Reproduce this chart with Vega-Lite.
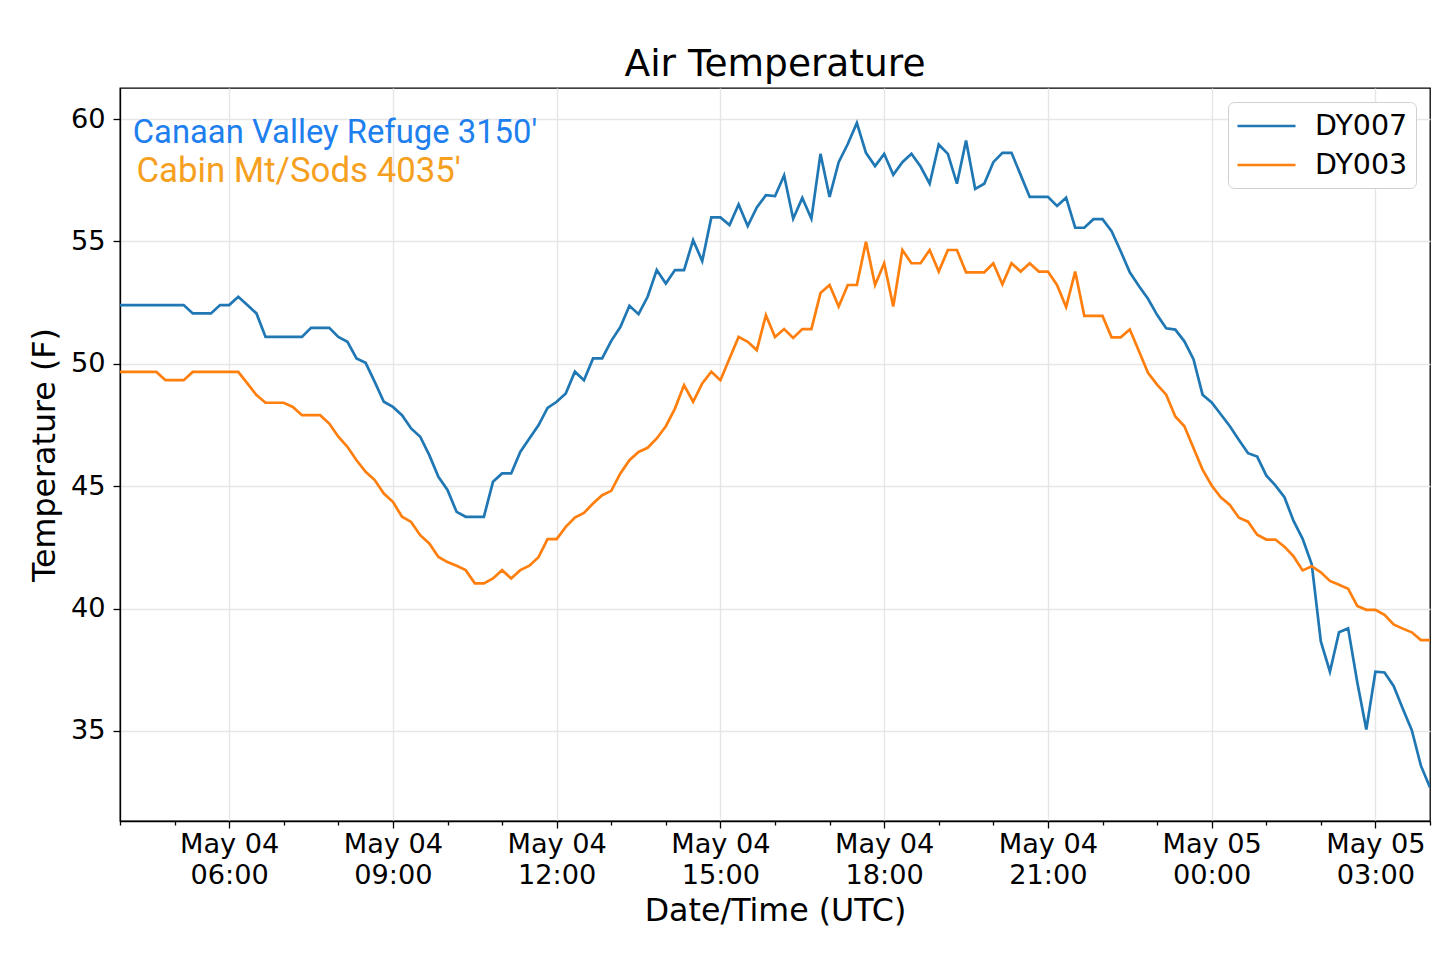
{
  "$schema": "https://vega.github.io/schema/vega-lite/v6.json",
  "width": 1310,
  "height": 733,
  "autosize": "none",
  "padding": {"left": 120, "top": 88, "right": 10, "bottom": 132},
  "title": {"text": "Air Temperature", "fontSize": 37.5, "font": "DejaVu Sans", "fontWeight": "normal", "anchor": "middle", "offset": 5, "color": "black"},
  "config": {
    "font": "DejaVu Sans",
    "view": {"stroke": "black", "strokeWidth": 1.3},
    "axis": {"domainColor": "black", "domainWidth": 1.3, "tickColor": "black", "tickWidth": 1.3, "labelColor": "black", "titleColor": "black", "gridColor": "#e6e6e6", "gridWidth": 1.4, "labelFont": "DejaVu Sans", "titleFont": "DejaVu Sans", "labelFontSize": 27.2, "titleFontSize": 31.7, "titleFontWeight": "normal"},
    "legend": {"labelFont": "DejaVu Sans", "labelFontSize": 28.5, "labelColor": "black"}
  },
  "layer": [
    {
      "data": {"values": [
        {"t":"2019-05-04T04:00:00Z","DY007":52.4,"DY003":49.67},
        {"t":"2019-05-04T04:10:00Z","DY007":52.4,"DY003":49.67},
        {"t":"2019-05-04T04:20:00Z","DY007":52.4,"DY003":49.67},
        {"t":"2019-05-04T04:30:00Z","DY007":52.4,"DY003":49.67},
        {"t":"2019-05-04T04:40:00Z","DY007":52.4,"DY003":49.67},
        {"t":"2019-05-04T04:50:00Z","DY007":52.4,"DY003":49.33},
        {"t":"2019-05-04T05:00:00Z","DY007":52.4,"DY003":49.33},
        {"t":"2019-05-04T05:10:00Z","DY007":52.4,"DY003":49.33},
        {"t":"2019-05-04T05:20:00Z","DY007":52.06,"DY003":49.67},
        {"t":"2019-05-04T05:30:00Z","DY007":52.06,"DY003":49.67},
        {"t":"2019-05-04T05:40:00Z","DY007":52.06,"DY003":49.67},
        {"t":"2019-05-04T05:50:00Z","DY007":52.4,"DY003":49.67},
        {"t":"2019-05-04T06:00:00Z","DY007":52.4,"DY003":49.67},
        {"t":"2019-05-04T06:10:00Z","DY007":52.74,"DY003":49.67},
        {"t":"2019-05-04T06:20:00Z","DY007":52.4,"DY003":49.2},
        {"t":"2019-05-04T06:30:00Z","DY007":52.06,"DY003":48.72},
        {"t":"2019-05-04T06:40:00Z","DY007":51.1,"DY003":48.41},
        {"t":"2019-05-04T06:50:00Z","DY007":51.1,"DY003":48.41},
        {"t":"2019-05-04T07:00:00Z","DY007":51.1,"DY003":48.41},
        {"t":"2019-05-04T07:10:00Z","DY007":51.1,"DY003":48.24},
        {"t":"2019-05-04T07:20:00Z","DY007":51.1,"DY003":47.9},
        {"t":"2019-05-04T07:30:00Z","DY007":51.47,"DY003":47.9},
        {"t":"2019-05-04T07:40:00Z","DY007":51.47,"DY003":47.9},
        {"t":"2019-05-04T07:50:00Z","DY007":51.47,"DY003":47.56},
        {"t":"2019-05-04T08:00:00Z","DY007":51.1,"DY003":47.02},
        {"t":"2019-05-04T08:10:00Z","DY007":50.9,"DY003":46.61},
        {"t":"2019-05-04T08:20:00Z","DY007":50.22,"DY003":46.06},
        {"t":"2019-05-04T08:30:00Z","DY007":50.04,"DY003":45.59},
        {"t":"2019-05-04T08:40:00Z","DY007":49.26,"DY003":45.25},
        {"t":"2019-05-04T08:50:00Z","DY007":48.45,"DY003":44.7},
        {"t":"2019-05-04T09:00:00Z","DY007":48.24,"DY003":44.36},
        {"t":"2019-05-04T09:10:00Z","DY007":47.9,"DY003":43.75},
        {"t":"2019-05-04T09:20:00Z","DY007":47.36,"DY003":43.54},
        {"t":"2019-05-04T09:30:00Z","DY007":47.02,"DY003":43.0},
        {"t":"2019-05-04T09:40:00Z","DY007":46.27,"DY003":42.66},
        {"t":"2019-05-04T09:50:00Z","DY007":45.38,"DY003":42.11},
        {"t":"2019-05-04T10:00:00Z","DY007":44.85,"DY003":41.9},
        {"t":"2019-05-04T10:10:00Z","DY007":43.95,"DY003":41.75},
        {"t":"2019-05-04T10:20:00Z","DY007":43.75,"DY003":41.57},
        {"t":"2019-05-04T10:30:00Z","DY007":43.75,"DY003":41.03},
        {"t":"2019-05-04T10:40:00Z","DY007":43.75,"DY003":41.03},
        {"t":"2019-05-04T10:50:00Z","DY007":45.18,"DY003":41.23},
        {"t":"2019-05-04T11:00:00Z","DY007":45.52,"DY003":41.57},
        {"t":"2019-05-04T11:10:00Z","DY007":45.52,"DY003":41.23},
        {"t":"2019-05-04T11:20:00Z","DY007":46.4,"DY003":41.57},
        {"t":"2019-05-04T11:30:00Z","DY007":46.95,"DY003":41.75},
        {"t":"2019-05-04T11:40:00Z","DY007":47.49,"DY003":42.1},
        {"t":"2019-05-04T11:50:00Z","DY007":48.2,"DY003":42.84},
        {"t":"2019-05-04T12:00:00Z","DY007":48.45,"DY003":42.84},
        {"t":"2019-05-04T12:10:00Z","DY007":48.79,"DY003":43.34},
        {"t":"2019-05-04T12:20:00Z","DY007":49.68,"DY003":43.72},
        {"t":"2019-05-04T12:30:00Z","DY007":49.33,"DY003":43.91},
        {"t":"2019-05-04T12:40:00Z","DY007":50.22,"DY003":44.29},
        {"t":"2019-05-04T12:50:00Z","DY007":50.22,"DY003":44.63},
        {"t":"2019-05-04T13:00:00Z","DY007":50.94,"DY003":44.81},
        {"t":"2019-05-04T13:10:00Z","DY007":51.5,"DY003":45.52},
        {"t":"2019-05-04T13:20:00Z","DY007":52.37,"DY003":46.06},
        {"t":"2019-05-04T13:30:00Z","DY007":52.03,"DY003":46.4},
        {"t":"2019-05-04T13:40:00Z","DY007":52.74,"DY003":46.57},
        {"t":"2019-05-04T13:50:00Z","DY007":53.83,"DY003":46.95},
        {"t":"2019-05-04T14:00:00Z","DY007":53.28,"DY003":47.45},
        {"t":"2019-05-04T14:10:00Z","DY007":53.83,"DY003":48.17},
        {"t":"2019-05-04T14:20:00Z","DY007":53.83,"DY003":49.13},
        {"t":"2019-05-04T14:30:00Z","DY007":55.05,"DY003":48.45},
        {"t":"2019-05-04T14:40:00Z","DY007":54.2,"DY003":49.2},
        {"t":"2019-05-04T14:50:00Z","DY007":55.98,"DY003":49.68},
        {"t":"2019-05-04T15:00:00Z","DY007":55.98,"DY003":49.33},
        {"t":"2019-05-04T15:10:00Z","DY007":55.67,"DY003":50.22},
        {"t":"2019-05-04T15:20:00Z","DY007":56.51,"DY003":51.1},
        {"t":"2019-05-04T15:30:00Z","DY007":55.63,"DY003":50.9},
        {"t":"2019-05-04T15:40:00Z","DY007":56.39,"DY003":50.56},
        {"t":"2019-05-04T15:50:00Z","DY007":56.89,"DY003":51.99},
        {"t":"2019-05-04T16:00:00Z","DY007":56.85,"DY003":51.1},
        {"t":"2019-05-04T16:10:00Z","DY007":57.7,"DY003":51.42},
        {"t":"2019-05-04T16:20:00Z","DY007":55.93,"DY003":51.06},
        {"t":"2019-05-04T16:30:00Z","DY007":56.78,"DY003":51.42},
        {"t":"2019-05-04T16:40:00Z","DY007":55.93,"DY003":51.42},
        {"t":"2019-05-04T16:50:00Z","DY007":58.58,"DY003":52.89},
        {"t":"2019-05-04T17:00:00Z","DY007":56.82,"DY003":53.22},
        {"t":"2019-05-04T17:10:00Z","DY007":58.24,"DY003":52.34},
        {"t":"2019-05-04T17:20:00Z","DY007":58.98,"DY003":53.22},
        {"t":"2019-05-04T17:30:00Z","DY007":59.84,"DY003":53.22},
        {"t":"2019-05-04T17:40:00Z","DY007":58.62,"DY003":54.99},
        {"t":"2019-05-04T17:50:00Z","DY007":58.08,"DY003":53.22},
        {"t":"2019-05-04T18:00:00Z","DY007":58.58,"DY003":54.11},
        {"t":"2019-05-04T18:10:00Z","DY007":57.72,"DY003":52.34},
        {"t":"2019-05-04T18:20:00Z","DY007":58.24,"DY003":54.65},
        {"t":"2019-05-04T18:30:00Z","DY007":58.58,"DY003":54.11},
        {"t":"2019-05-04T18:40:00Z","DY007":58.06,"DY003":54.11},
        {"t":"2019-05-04T18:50:00Z","DY007":57.36,"DY003":54.65},
        {"t":"2019-05-04T19:00:00Z","DY007":58.96,"DY003":53.77},
        {"t":"2019-05-04T19:10:00Z","DY007":58.58,"DY003":54.65},
        {"t":"2019-05-04T19:20:00Z","DY007":57.36,"DY003":54.65},
        {"t":"2019-05-04T19:30:00Z","DY007":59.12,"DY003":53.74},
        {"t":"2019-05-04T19:40:00Z","DY007":57.15,"DY003":53.74},
        {"t":"2019-05-04T19:50:00Z","DY007":57.36,"DY003":53.74},
        {"t":"2019-05-04T20:00:00Z","DY007":58.24,"DY003":54.11},
        {"t":"2019-05-04T20:10:00Z","DY007":58.62,"DY003":53.25},
        {"t":"2019-05-04T20:20:00Z","DY007":58.62,"DY003":54.11},
        {"t":"2019-05-04T20:30:00Z","DY007":57.72,"DY003":53.77},
        {"t":"2019-05-04T20:40:00Z","DY007":56.82,"DY003":54.11},
        {"t":"2019-05-04T20:50:00Z","DY007":56.82,"DY003":53.77},
        {"t":"2019-05-04T21:00:00Z","DY007":56.82,"DY003":53.77},
        {"t":"2019-05-04T21:10:00Z","DY007":56.45,"DY003":53.22},
        {"t":"2019-05-04T21:20:00Z","DY007":56.79,"DY003":52.32},
        {"t":"2019-05-04T21:30:00Z","DY007":55.56,"DY003":53.77},
        {"t":"2019-05-04T21:40:00Z","DY007":55.56,"DY003":51.96},
        {"t":"2019-05-04T21:50:00Z","DY007":55.91,"DY003":51.96},
        {"t":"2019-05-04T22:00:00Z","DY007":55.91,"DY003":51.96},
        {"t":"2019-05-04T22:10:00Z","DY007":55.42,"DY003":51.08},
        {"t":"2019-05-04T22:20:00Z","DY007":54.6,"DY003":51.08},
        {"t":"2019-05-04T22:30:00Z","DY007":53.74,"DY003":51.4},
        {"t":"2019-05-04T22:40:00Z","DY007":53.18,"DY003":50.52},
        {"t":"2019-05-04T22:50:00Z","DY007":52.66,"DY003":49.63},
        {"t":"2019-05-04T23:00:00Z","DY007":52.0,"DY003":49.15},
        {"t":"2019-05-04T23:10:00Z","DY007":51.45,"DY003":48.74},
        {"t":"2019-05-04T23:20:00Z","DY007":51.4,"DY003":47.85},
        {"t":"2019-05-04T23:30:00Z","DY007":50.92,"DY003":47.45},
        {"t":"2019-05-04T23:40:00Z","DY007":50.19,"DY003":46.56},
        {"t":"2019-05-04T23:50:00Z","DY007":48.74,"DY003":45.68},
        {"t":"2019-05-05T00:00:00Z","DY007":48.42,"DY003":45.03},
        {"t":"2019-05-05T00:10:00Z","DY007":47.94,"DY003":44.55},
        {"t":"2019-05-05T00:20:00Z","DY007":47.45,"DY003":44.23},
        {"t":"2019-05-05T00:30:00Z","DY007":46.89,"DY003":43.71},
        {"t":"2019-05-05T00:40:00Z","DY007":46.35,"DY003":43.55},
        {"t":"2019-05-05T00:50:00Z","DY007":46.21,"DY003":43.02},
        {"t":"2019-05-05T01:00:00Z","DY007":45.44,"DY003":42.82},
        {"t":"2019-05-05T01:10:00Z","DY007":45.03,"DY003":42.82},
        {"t":"2019-05-05T01:20:00Z","DY007":44.55,"DY003":42.53},
        {"t":"2019-05-05T01:30:00Z","DY007":43.58,"DY003":42.13},
        {"t":"2019-05-05T01:40:00Z","DY007":42.85,"DY003":41.56},
        {"t":"2019-05-05T01:50:00Z","DY007":41.81,"DY003":41.73},
        {"t":"2019-05-05T02:00:00Z","DY007":38.66,"DY003":41.48},
        {"t":"2019-05-05T02:10:00Z","DY007":37.42,"DY003":41.13},
        {"t":"2019-05-05T02:20:00Z","DY007":39.03,"DY003":40.97},
        {"t":"2019-05-05T02:30:00Z","DY007":39.19,"DY003":40.81},
        {"t":"2019-05-05T02:40:00Z","DY007":37.0,"DY003":40.11},
        {"t":"2019-05-05T02:50:00Z","DY007":35.06,"DY003":39.95},
        {"t":"2019-05-05T03:00:00Z","DY007":37.42,"DY003":39.95},
        {"t":"2019-05-05T03:10:00Z","DY007":37.39,"DY003":39.74},
        {"t":"2019-05-05T03:20:00Z","DY007":36.84,"DY003":39.35},
        {"t":"2019-05-05T03:30:00Z","DY007":35.92,"DY003":39.18},
        {"t":"2019-05-05T03:40:00Z","DY007":35.03,"DY003":39.03},
        {"t":"2019-05-05T03:50:00Z","DY007":33.58,"DY003":38.71},
        {"t":"2019-05-05T04:00:00Z","DY007":32.69,"DY003":38.71}
      ]},
      "transform": [{"fold": ["DY007", "DY003"], "as": ["station", "temp"]}],
      "mark": {"type": "line", "strokeWidth": 2.7, "clip": true},
      "encoding": {
        "x": {
          "field": "t", "type": "temporal",
          "scale": {"type": "utc", "domain": [1556942400000, 1557028800000], "nice": false},
          "axis": {
            "title": "Date/Time (UTC)",
            "titlePadding": 7,
            "values": [1556942400000,1556946000000,1556949600000,1556953200000,1556956800000,1556960400000,1556964000000,1556967600000,1556971200000,1556974800000,1556978400000,1556982000000,1556985600000,1556989200000,1556992800000,1556996400000,1557000000000,1557003600000,1557007200000,1557010800000,1557014400000,1557018000000,1557021600000,1557025200000,1557028800000],
            "labelExpr": "utchours(datum.value) % 3 == 0 && datum.value > 1556942400000 && datum.value < 1557028800000 ? [utcFormat(datum.value, '%b %d'), utcFormat(datum.value, '%H:%M')] : ''",
            "labelLineHeight": 31.5,
            "labelOverlap": false,
            "labelFlush": false,
            "labelBound": false,
            "labelPadding": 3,
            "tickSize": {"condition": {"test": "utchours(datum.value) % 3 == 0", "value": 7}, "value": 4},
            "gridOpacity": {"condition": {"test": "utchours(datum.value) % 3 == 0", "value": 1}, "value": 0}
          }
        },
        "y": {
          "field": "temp", "type": "quantitative",
          "scale": {"domain": [31.32, 61.27], "nice": false, "zero": false},
          "axis": {"title": "Temperature (F)", "values": [35, 40, 45, 50, 55, 60], "tickSize": 7, "labelPadding": 8, "titlePadding": 9}
        },
        "color": {
          "field": "station", "type": "nominal",
          "scale": {"domain": ["DY007", "DY003"], "range": ["#1f77b4", "#ff7f0e"]},
          "legend": {
            "title": null, "orient": "none", "legendX": 1108, "legendY": 14,
            "symbolType": "M-1,0H3", "symbolSize": 841, "symbolStrokeWidth": 2.7, "symbolFillColor": "transparent",
            "labelOffset": 47, "padding": 8, "rowPadding": 8,
            "strokeColor": "#d0d0d0", "cornerRadius": 6, "fillColor": "white"
          }
        }
      }
    },
    {
      "data": {"values": [{"label": "Canaan Valley Refuge 3150'"}]},
      "mark": {"type": "text", "align": "left", "baseline": "alphabetic", "font": "Roboto", "fontSize": 32.8, "color": "#1e80ee"},
      "encoding": {
        "x": {"datum": 1556943240000, "type": "temporal"},
        "y": {"datum": 59.03, "type": "quantitative"},
        "text": {"field": "label"}
      }
    },
    {
      "data": {"values": [{"label": "Cabin Mt/Sods 4035'"}]},
      "mark": {"type": "text", "align": "left", "baseline": "alphabetic", "font": "Roboto", "fontSize": 34.8, "color": "#f5a01e"},
      "encoding": {
        "x": {"datum": 1556943480000, "type": "temporal"},
        "y": {"datum": 57.44, "type": "quantitative"},
        "text": {"field": "label"}
      }
    }
  ]
}
